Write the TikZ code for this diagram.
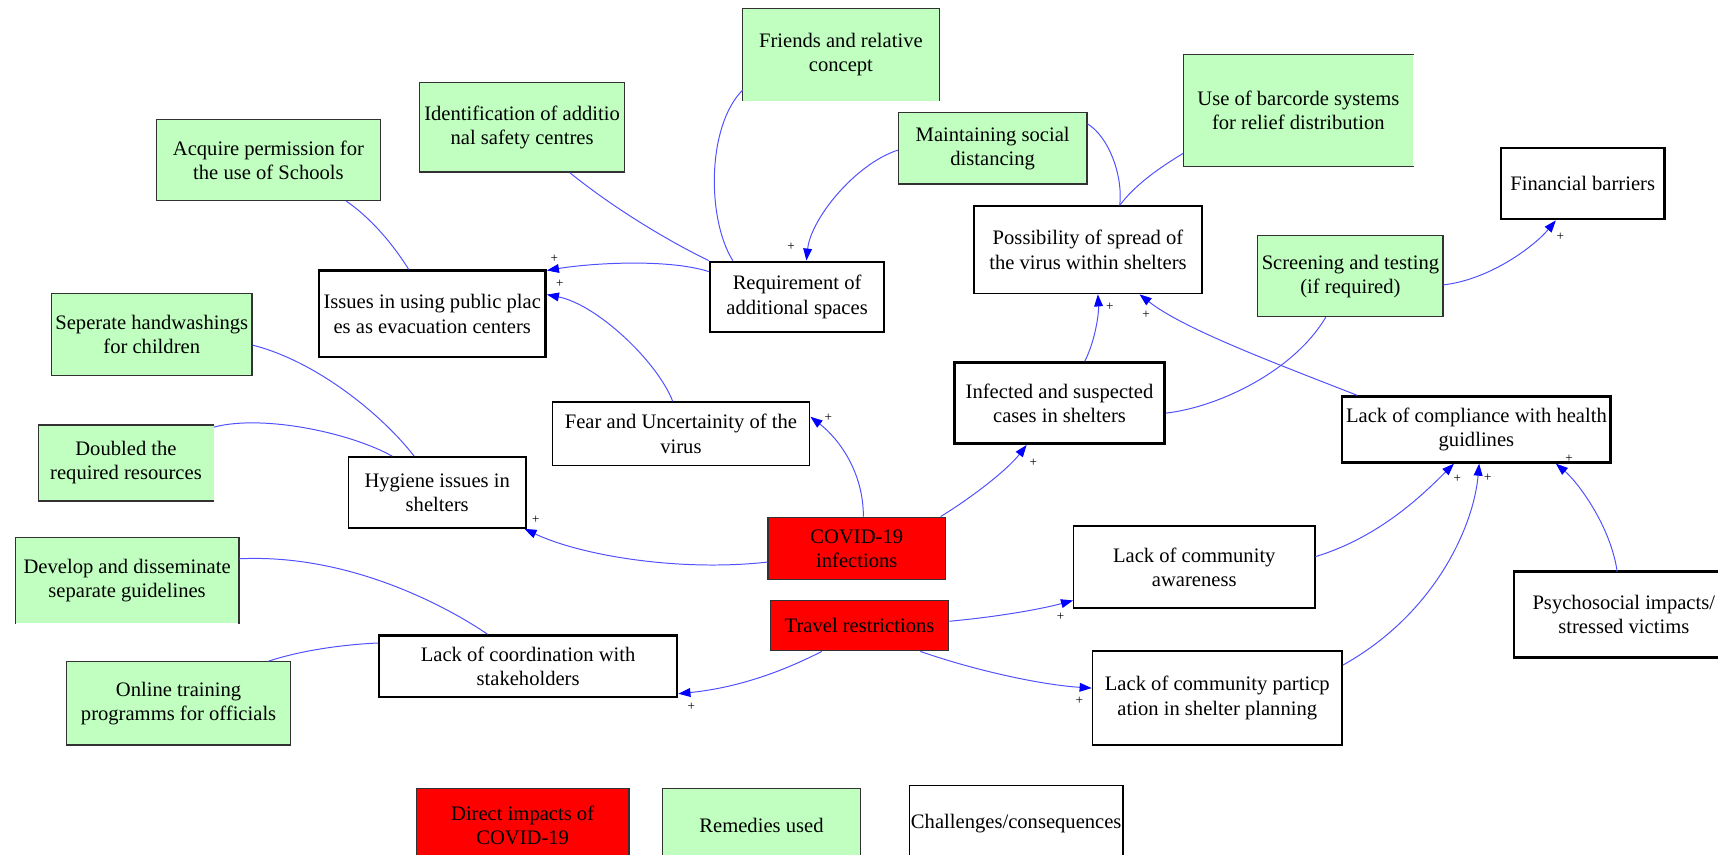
\documentclass[tikz,border=0pt]{standalone}
\usepackage{fontspec}
\setmainfont{Liberation Serif}
\usetikzlibrary{arrows.meta}

\definecolor{remgreen}{RGB}{192,255,192}
\definecolor{linkblue}{RGB}{80,80,255}
\definecolor{boxedge}{RGB}{50,50,50}

\begin{document}
\begin{tikzpicture}[x=1pt,y=1pt,
  box/.style={rectangle, inner sep=0pt, align=center, text=black,
    font=\fontsize{18.8}{22}\selectfont},
  remedy/.style={box, fill=remgreen, draw=boxedge, line width=1.1pt},
  remedyopen/.style={box, fill=remgreen},
  openedge/.style={draw=boxedge, line width=1.1pt},
  challenge/.style={box, fill=white, draw=black, line width=1.3pt},
  heavy/.style={line width=2.3pt},
  impact/.style={box, fill=red, draw=boxedge, line width=1.1pt},
  link/.style={draw=linkblue, line width=0.9pt},
  plink/.style={link, -{Triangle[length=11pt,width=8pt,color=blue]}},
  sign/.style={font=\fontsize{12}{12}\selectfont, inner sep=0pt, text=black}
]
\fill[white] (0,0) rectangle (1568,-780);
\clip (0,0) rectangle (1568,-780);

% ---------- remedies (green) ----------
\node[remedyopen, minimum width=179pt, minimum height=84pt] (friends) at (767.5,-50) {Friends and relative\\concept};
\draw[openedge] (friends.south west) -- (friends.north west) -- (friends.north east) -- (friends.south east);
\node[remedy, minimum width=187pt, minimum height=82pt] (ident) at (476.5,-116) {Identification of additio\\nal safety centres};
\node[remedy, minimum width=204pt, minimum height=74pt] (acquire) at (245,-146) {Acquire permission for\\the use of Schools};
\node[remedy, minimum width=172pt, minimum height=65pt] (maint) at (906,-135.5) {Maintaining social\\distancing};
\node[remedyopen, minimum width=210pt, minimum height=102pt] (barcode) at (1185,-101) {Use of barcorde systems\\for relief distribution};
\draw[openedge] (barcode.north east) -- (barcode.north west) -- (barcode.south west) -- (barcode.south east);
\node[remedy, minimum width=169pt, minimum height=74pt] (screen) at (1232.5,-252) {Screening and testing\\(if required)};
\node[remedy, minimum width=183pt, minimum height=75pt] (seperate) at (138.5,-305.5) {Seperate handwashings\\for children};
\node[remedyopen, minimum width=160pt, minimum height=69pt] (doubled) at (115,-422.5) {Doubled the\\required resources};
\draw[openedge] (doubled.north east) -- (doubled.north west) -- (doubled.south west) -- (doubled.south east);
\node[remedyopen, minimum width=204pt, minimum height=78pt] (develop) at (116,-530) {Develop and disseminate\\separate guidelines};
\draw[openedge] (develop.south west) -- (develop.north west) -- (develop.north east) -- (develop.south east);
\node[remedy, minimum width=204pt, minimum height=76pt] (online) at (163,-642) {Online training\\programms for officials};

% ---------- challenges (white) ----------
\node[challenge, heavy, minimum width=207pt, minimum height=79pt] (issues) at (394.5,-286.5) {Issues in using public plac\\es as evacuation centers};
\node[challenge, heavy, minimum width=159pt, minimum height=64pt] (req) at (727.5,-271) {Requirement of\\additional spaces};
\node[challenge, minimum width=208pt, minimum height=80pt] (poss) at (993,-228) {Possibility of spread of\\the virus within shelters};
\node[challenge, heavy, minimum width=149pt, minimum height=65pt] (fin) at (1444.5,-167.5) {Financial barriers};
\node[challenge, heavy, minimum width=192pt, minimum height=74pt] (infect) at (967,-368) {Infected and suspected\\cases in shelters};
\node[challenge, heavy, minimum width=245pt, minimum height=60pt] (compl) at (1347.5,-392) {Lack of compliance with health\\guidlines};
\node[challenge, minimum width=235pt, minimum height=58pt] (fear) at (621.5,-396) {Fear and Uncertainity of the\\virus};
\node[challenge, minimum width=162pt, minimum height=65pt] (hyg) at (399,-449.5) {Hygiene issues in\\shelters};
\node[challenge, minimum width=220pt, minimum height=75pt] (aware) at (1090,-517.5) {Lack of community\\awareness};
\node[challenge, heavy, minimum width=272pt, minimum height=56pt] (coord) at (482,-608) {Lack of coordination with\\stakeholders};
\node[challenge, minimum width=228pt, minimum height=86pt] (partic) at (1111,-637) {Lack of community particp\\ation in shelter planning};
\node[box, fill=white, minimum width=200pt, minimum height=78pt] (psych) at (1482,-561) {Psychosocial impacts/\\stressed victims};
\draw[black, heavy] (psych.north east) -- (psych.north west) -- (psych.south west) -- (psych.south east);

% ---------- direct impacts (red) ----------
\node[impact, minimum width=162pt, minimum height=57pt] (covid) at (782,-500.5) {COVID-19\\infections};
\node[impact, minimum width=163pt, minimum height=46pt] (travel) at (784.5,-571) {Travel restrictions};

% ---------- legend ----------
\node[impact, minimum width=194pt, minimum height=66pt] (legimpact) at (477,-753) {Direct impacts of\\COVID-19};
\node[remedy, minimum width=180pt, minimum height=66pt] (legremedy) at (695,-753) {Remedies used};
\node[challenge, minimum width=195pt, minimum height=70pt] (legchallenge) at (927.5,-752) {Challenges/consequences};

% ---------- causal links ----------
\draw[plink] ([yshift=-10pt]req.north west) .. controls (610,-236) and (540,-240) .. ([yshift=-1pt]issues.north east);
\draw[plink] ([xshift=-7.5pt]fear.north) .. controls (600,-330) and (545,-278) .. ([yshift=-23pt]issues.north east);
\draw[plink] ([xshift=6pt]covid.north) .. controls (788,-430) and (765,-400) .. ([yshift=-14pt]fear.north east);
\draw[plink] ([yshift=-12.5pt]covid.west) .. controls (620,-522) and (530,-507) .. ([xshift=-2pt]hyg.south east);
\draw[plink] ([xshift=-5pt]covid.north east) .. controls (890,-452) and (920,-428) .. ([xshift=-30pt]infect.south);
\draw[plink] ([xshift=23pt]infect.north) .. controls (1000,-310) and (1003,-285) .. ([xshift=9pt]poss.south);
\draw[plink] ([xshift=15pt]compl.north west) .. controls (1160,-330) and (1080,-300) .. ([xshift=47pt]poss.south);
\draw[link] ([xshift=-22.5pt]screen.south) .. controls (1180,-340) and (1110,-372) .. ([yshift=-9pt]infect.east);
\draw[plink] ([yshift=-8pt]screen.east) .. controls (1360,-255) and (1400,-225) .. ([xshift=-24.5pt]fin.south);
\draw[plink] ([yshift=-1.5pt]maint.west) .. controls (780,-150) and (740,-200) .. ([xshift=8.5pt]req.north);
\draw[link] ([yshift=22.5pt]maint.east) .. controls (1012,-125) and (1025,-160) .. ([xshift=29pt]poss.north);
\draw[link] ([yshift=-39pt]barcode.west) .. controls (1055,-155) and (1035,-170) .. ([xshift=29pt]poss.north);
\draw[link] ([yshift=10pt]friends.south west) .. controls (645,-115) and (645,-200) .. ([xshift=22pt]req.north west);
\draw[link] ([xshift=43.5pt]ident.south) .. controls (560,-190) and (610,-220) .. (req.north west);
\draw[link] ([xshift=71pt]acquire.south) .. controls (340,-200) and (360,-225) .. ([xshift=-21.5pt]issues.north);
\draw[link] ([yshift=-9.5pt]seperate.east) .. controls (290,-330) and (350,-380) .. ([xshift=-21pt]hyg.north);
\draw[link] ([yshift=-2pt]doubled.north east) .. controls (240,-378) and (320,-395) .. ([xshift=-41pt]hyg.north);
\draw[link] ([yshift=20pt]develop.east) .. controls (320,-505) and (410,-555) .. ([xshift=-37pt]coord.north);
\draw[link] ([xshift=82pt]online.north) .. controls (280,-592) and (320,-588) .. ([yshift=-8pt]coord.north west);
\draw[plink] ([xshift=-34.5pt]travel.south) .. controls (710,-615) and (670,-628) .. ([yshift=4pt]coord.south east);
\draw[plink] ([yshift=4pt]travel.east) .. controls (910,-563) and (950,-556) .. ([yshift=-30.5pt]aware.west);
\draw[plink] ([xshift=55.5pt]travel.south) .. controls (890,-612) and (950,-625) .. ([yshift=9pt]partic.west);
\draw[plink] ([yshift=9.5pt]aware.east) .. controls (1260,-490) and (1300,-450) .. ([xshift=-20.5pt]compl.south);
\draw[plink] ([yshift=30pt]partic.east) .. controls (1310,-560) and (1345,-480) .. ([xshift=2.5pt]compl.south);
\draw[plink] ([xshift=-6pt]psych.north) .. controls (1470,-480) and (1440,-440) .. ([xshift=72.5pt]compl.south);

% ---------- polarity signs ----------
\node[sign] (s1) at (506,-236) {+};
\node[sign] (s2) at (511,-259) {+};
\node[sign] (s3) at (722,-225) {+};
\node[sign] (s4) at (756,-381) {+};
\node[sign] (s5) at (489,-474) {+};
\node[sign] (s6) at (943,-422) {+};
\node[sign] (s7) at (1013,-280) {+};
\node[sign] (s8) at (1046,-287) {+};
\node[sign] (s9) at (1424,-216) {+};
\node[sign] (s10) at (631,-645) {+};
\node[sign] (s11) at (968,-563) {+};
\node[sign] (s12) at (985,-640) {+};
\node[sign] (s13) at (1330,-437) {+};
\node[sign] (s14) at (1358,-436) {+};
\node[sign] (s15) at (1432,-419) {+};
\end{tikzpicture}
\end{document}
